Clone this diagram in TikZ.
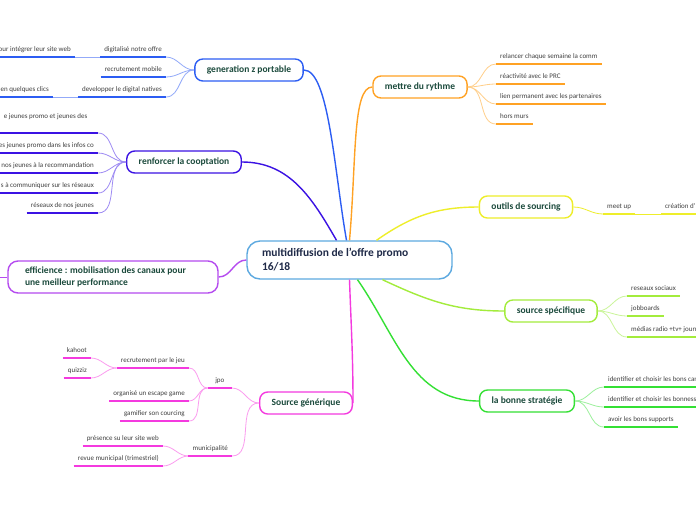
\documentclass[tikz,border=0pt]{standalone}
\usepackage{fontspec}
\setmainfont{Carlito}
\definecolor{cmain}{HTML}{5DA9E0}
\definecolor{cmaintxt}{HTML}{1F2A48}
\definecolor{ctxt}{HTML}{1B4A3C}
\definecolor{cleaf}{HTML}{404040}
\definecolor{cgen}{HTML}{2C5DF3}
\definecolor{cgenl}{HTML}{93AAF9}
\definecolor{ccoop}{HTML}{3B12E3}
\definecolor{ccoopl}{HTML}{9E8BF3}
\definecolor{ceff}{HTML}{B54BEF}
\definecolor{csrc}{HTML}{F43ADF}
\definecolor{csrcl}{HTML}{FB9CEF}
\definecolor{cryt}{HTML}{FFA224}
\definecolor{crytl}{HTML}{FFCF8A}
\definecolor{cout}{HTML}{EEEE2A}
\definecolor{cspec}{HTML}{A3EC3C}
\definecolor{cspecl}{HTML}{CBF59A}
\definecolor{cstrat}{HTML}{34E034}
\definecolor{cstratl}{HTML}{9CF09C}
\begin{document}
\begin{tikzpicture}[x=1pt,y=-1pt,
  branch/.style={draw=#1, line width=1.4pt, rounded corners=8pt, fill=white, minimum height=22pt, inner xsep=12pt, font=\fontsize{9.5}{12}\selectfont\bfseries, text=ctxt},
  leaf/.style={inner xsep=4pt, inner ysep=3pt, text height=5pt, text depth=2pt, minimum width=24pt, font=\fontsize{7}{8}\selectfont, text=cleaf},
  uline/.style={draw=#1, line width=1.8pt},
  link/.style={draw=#1, line width=0.8pt},
  trunk/.style={draw=#1, line width=1.4pt}]
\fill[white] (0,0) rectangle (696,520);
\useasboundingbox (0,0) rectangle (696,520);
\node[draw=cmain, line width=1.4pt, rounded corners=13pt, minimum height=38pt, text width=175pt, inner xsep=15pt, align=flush left, font=\fontsize{11.5}{14}\selectfont\bfseries, text=cmaintxt] (main) at (349.5,260) {multidiffusion de l'offre promo\\16/18};
\node[branch=cgen] (gen) at (249,70) {generation z portable};
\node[branch=ccoop] (coop) at (184,162) {renforcer la cooptation};
\node[branch=ceff, rounded corners=10pt, text width=176pt, align=flush left, inner xsep=17pt, minimum height=32pt] (eff) at (113,277) {efficience : mobilisation des canaux pour\\une meilleur performance};
\node[branch=csrc] (src) at (306,403) {Source générique};
\node[branch=cryt] (ryt) at (420,87) {mettre du rythme};
\node[branch=cout] (outil) at (526,207) {outils de sourcing};
\node[branch=cspec] (spec) at (551,311) {source spécifique};
\node[branch=cstrat] (strat) at (527,401) {la bonne stratégie};
\coordinate (effc) at (-20,277);
\draw[trunk=cgen] ([xshift=-3pt]main.north) to[out=100,in=0,out distance=70pt,in distance=25pt] (gen.east);
\draw[trunk=ccoop] ([xshift=-13pt]main.north) to[out=120,in=0] (coop.east);
\draw[trunk=ceff] (main.west) to[out=180,in=0] (eff.east);
\draw[trunk=csrc] (main.south) to[out=-88,in=90] (src.east);
\draw[trunk=cryt] (main.north) to[out=85,in=180,out distance=80pt,in distance=20pt] (ryt.west);
\draw[trunk=cout] ([xshift=27pt]main.north) to[out=35,in=180] (outil.west);
\draw[trunk=cspec] ([xshift=33pt]main.south) to[out=-25,in=180] (spec.west);
\draw[trunk=cstrat] ([xshift=8pt]main.south) to[out=-55,in=180] (strat.west);
\draw[link=ceff] (eff.west) -- (effc);
\node[leaf, anchor=south east] (g1) at (166,57) {digitalisé notre offre};
\node[leaf, anchor=south east] (g2) at (166,77) {recrutement mobile};
\node[leaf, anchor=south east] (g3) at (166,97) {developper le digital natives};
\node[leaf, anchor=south east] (g1a) at (75,57) {our intégrer leur site web};
\node[leaf, anchor=south east] (g3a) at (53,97) {en quelques clics};
\foreach \n in {g1,g2,g3} \draw[link=cgenl] (gen.west) to[out=180,in=0] (\n.south east);
\draw[link=cgenl] (g1.south west) -- (g1a.south east);
\draw[link=cgenl] (g3.south west) -- (g3a.south east);
\foreach \n in {g1,g2,g3,g1a,g3a} \draw[uline=cgen] (\n.south west) -- (\n.south east);
\node[leaf, anchor=south east, text width=90pt, align=flush left, text depth=11pt] (c1) at (98,133) {e jeunes promo et jeunes des};
\node[leaf, anchor=south east] (c2) at (98,153) {es jeunes promo dans les infos co};
\node[leaf, anchor=south east] (c3) at (98,173) {r nos jeunes à la recommandation};
\node[leaf, anchor=south east] (c4) at (98,193) {s à communiquer sur les réseaux};
\node[leaf, anchor=south east] (c5) at (98,213) {réseaux de nos jeunes};
\foreach \n in {c1,c2,c3,c4,c5} {
  \draw[link=ccoopl] (coop.west) to[out=180,in=0] (\n.south east);
  \draw[uline=ccoop] (\n.south west) -- (\n.south east);
}
\node[leaf, anchor=south east] (s1) at (232,388) {jpo};
\node[leaf, anchor=south east] (s2) at (232,456) {municipalité};
\node[leaf, anchor=south east] (s1a) at (189,368) {recrutement par le jeu};
\node[leaf, anchor=south east] (s1b) at (189,401) {organisé un escape game};
\node[leaf, anchor=south east] (s1c) at (189,421) {gamifier son courcing};
\node[leaf, anchor=south east] (s1a1) at (91,358) {kahoot};
\node[leaf, anchor=south east] (s1a2) at (91,378) {quizziz};
\node[leaf, anchor=south east] (s2a) at (163,446) {présence su leur site web};
\node[leaf, anchor=south east] (s2b) at (163,466) {revue municipal (trimestriel)};
\foreach \n in {s1,s2} \draw[link=csrcl] (src.west) to[out=180,in=0] (\n.south east);
\foreach \n in {s1a,s1b,s1c} \draw[link=csrcl] (s1.south west) to[out=180,in=0] (\n.south east);
\foreach \n in {s1a1,s1a2} \draw[link=csrcl] (s1a.south west) to[out=180,in=0] (\n.south east);
\foreach \n in {s2a,s2b} \draw[link=csrcl] (s2.south west) to[out=180,in=0] (\n.south east);
\foreach \n in {s1,s2,s1a,s1b,s1c,s1a1,s1a2,s2a,s2b} \draw[uline=csrc] (\n.south west) -- (\n.south east);
\node[leaf, anchor=south west] (r1) at (496,64) {relancer chaque semaine la comm};
\node[leaf, anchor=south west] (r2) at (496,84) {réactivité avec le PRC};
\node[leaf, anchor=south west] (r3) at (496,104) {lien permanent avec les partenaires};
\node[leaf, anchor=south west] (r4) at (496,124) {hors murs};
\foreach \n in {r1,r2,r3,r4} {
  \draw[link=crytl] (ryt.east) to[out=0,in=180] (\n.south west);
  \draw[uline=cryt] (\n.south west) -- (\n.south east);
}
\node[leaf, anchor=south west] (o1) at (603,214) {meet up};
\node[leaf, anchor=south west, text width=44pt, align=flush left] (o1a) at (661,214) {création d'};
\draw[link=cout] (outil.east) to[out=0,in=180] (o1.south west);
\draw[link=cout] (o1.south east) -- (o1a.south west);
\foreach \n in {o1,o1a} \draw[uline=cout] (\n.south west) -- (\n.south east);
\node[leaf, anchor=south west] (p1) at (627,296) {reseaux sociaux};
\node[leaf, anchor=south west] (p2) at (627,316) {jobboards};
\node[leaf, anchor=south west, text width=90pt, align=flush left] (p3) at (627,337) {médias radio +tv+ journ};
\foreach \n in {p1,p2,p3} {
  \draw[link=cspecl] (spec.east) to[out=0,in=180] (\n.south west);
  \draw[uline=cspec] (\n.south west) -- (\n.south east);
}
\node[leaf, anchor=south west, text width=120pt, align=flush left] (t1) at (604,387) {identifier et choisir les bons can};
\node[leaf, anchor=south west, text width=120pt, align=flush left] (t2) at (604,407) {identifier et choisir les bonness};
\node[leaf, anchor=south west] (t3) at (604,427) {avoir les bons supports};
\foreach \n in {t1,t2,t3} {
  \draw[link=cstratl] (strat.east) to[out=0,in=180] (\n.south west);
  \draw[uline=cstrat] (\n.south west) -- (\n.south east);
}
\end{tikzpicture}
\end{document}
